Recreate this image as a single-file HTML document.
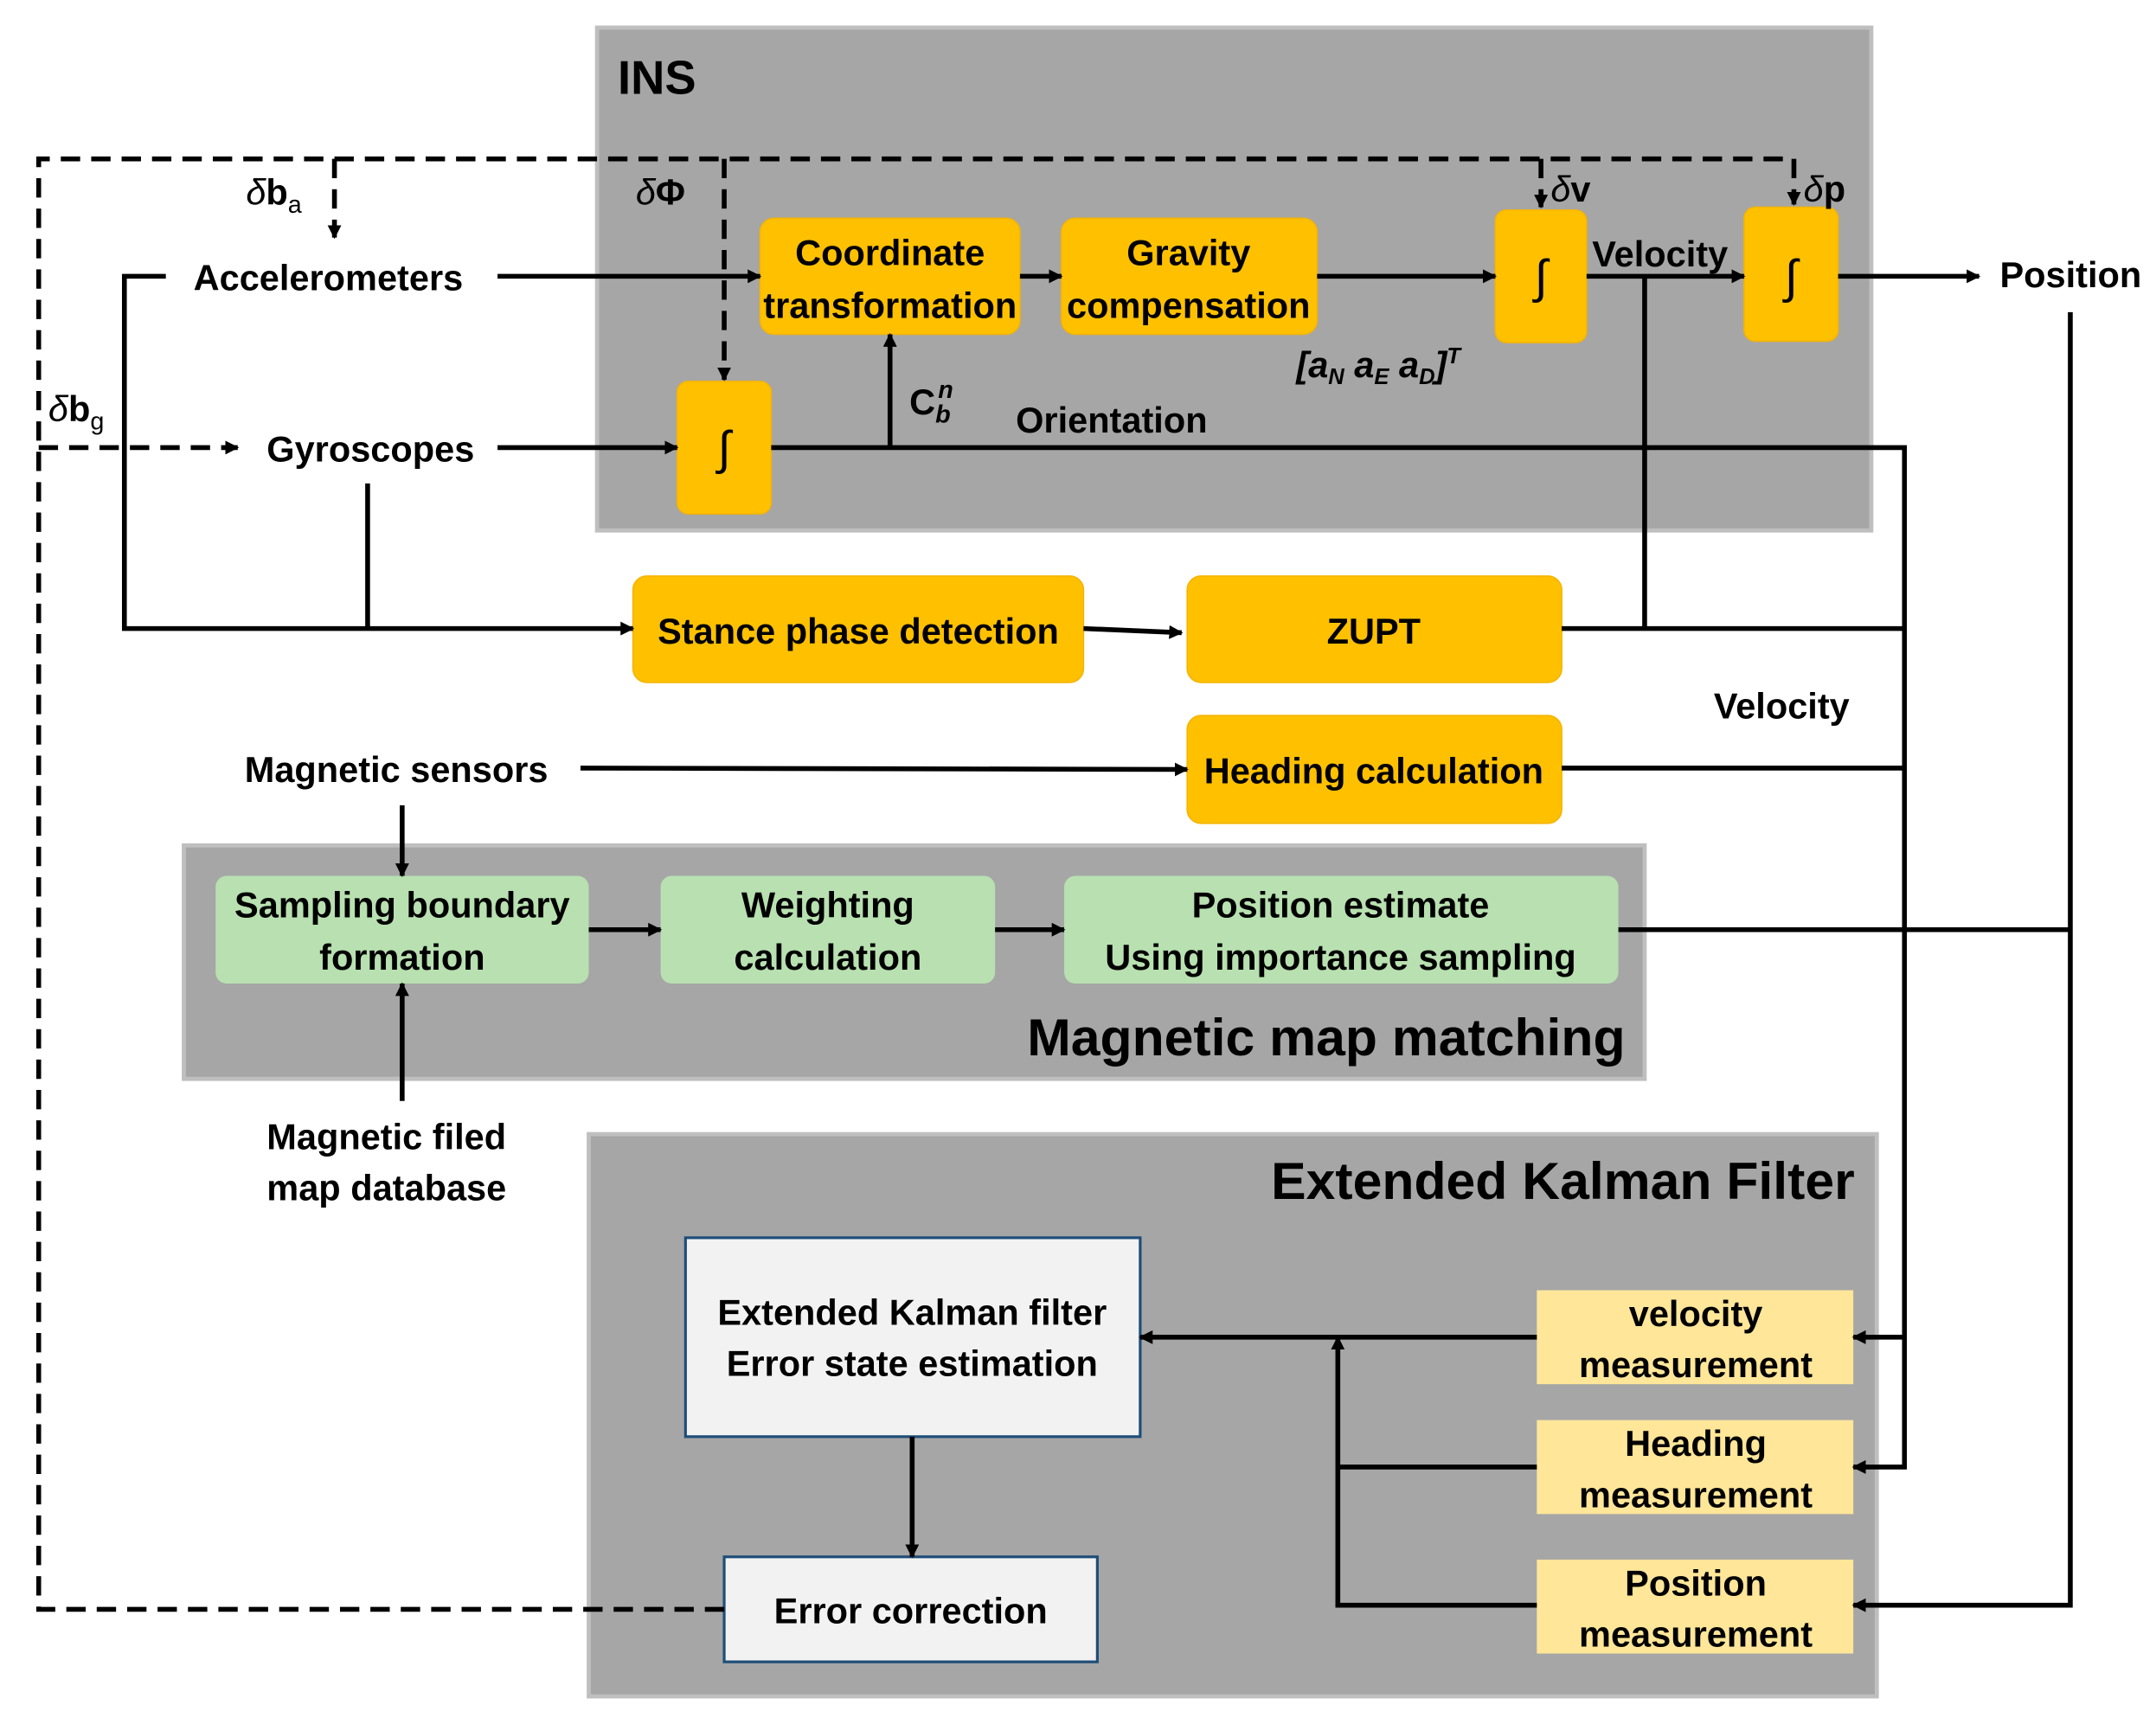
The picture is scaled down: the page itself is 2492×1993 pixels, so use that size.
<!DOCTYPE html>
<html><head><meta charset="utf-8">
<style>
html,body{margin:0;padding:0;background:#fff;}
svg{display:block;}
text{font-family:"Liberation Sans",sans-serif;font-weight:bold;fill:#000;}
</style></head>
<body>
<svg width="2492" height="1993" viewBox="0 0 1560 1248" preserveAspectRatio="none" xmlns="http://www.w3.org/2000/svg">
<defs>
<marker id="ah" markerWidth="10" markerHeight="10" refX="9" refY="5" orient="auto" markerUnits="userSpaceOnUse">
<path d="M0,0 L10,5 L0,10 z" fill="#000"/>
</marker>
</defs>

<rect x="432" y="20" width="922" height="364" fill="#a6a6a6" stroke="#bfbfbf" stroke-width="3"/>
<rect x="133" y="612" width="1057" height="169" fill="#a6a6a6" stroke="#bfbfbf" stroke-width="3"/>
<rect x="426" y="821" width="932" height="407" fill="#a6a6a6" stroke="#bfbfbf" stroke-width="3"/>
<text x="447" y="68" font-size="34">INS</text>
<text x="1176" y="764" font-size="38" text-anchor="end">Magnetic map matching</text>
<text x="1342" y="868" font-size="38" text-anchor="end">Extended Kalman Filter</text>

<g fill="#ffc000" stroke="#f5b400" stroke-width="1">
<rect x="550" y="158" width="188" height="84" rx="10"/>
<rect x="768" y="158" width="185" height="84" rx="10"/>
<rect x="1082" y="152" width="66" height="96" rx="8"/>
<rect x="1262" y="150" width="68" height="97" rx="8"/>
<rect x="490" y="276" width="68" height="96" rx="8"/>
<rect x="458" y="417" width="326" height="77" rx="10"/>
<rect x="859" y="417" width="271" height="77" rx="10"/>
<rect x="859" y="518" width="271" height="78" rx="10"/>
</g>
<g font-size="26" text-anchor="middle">
<text x="644" y="192">Coordinate</text>
<text x="644" y="230">transformation</text>
<text x="860" y="192">Gravity</text>
<text x="860" y="230">compensation</text>
<text x="621" y="466">Stance phase detection</text>
<text x="994" y="466">ZUPT</text>
<text x="994" y="567">Heading calculation</text>
</g>
<g font-size="34" text-anchor="middle" style="font-family:'Liberation Serif',serif">
<text x="1115" y="212" style="font-weight:normal">∫</text>
<text x="1296" y="212" style="font-weight:normal">∫</text>
<text x="524" y="336" style="font-weight:normal">∫</text>
</g>

<g fill="#b8e0b0">
<rect x="156" y="634" width="270" height="78" rx="8"/>
<rect x="478" y="634" width="242" height="78" rx="8"/>
<rect x="770" y="634" width="401" height="78" rx="8"/>
</g>
<g font-size="26" text-anchor="middle">
<text x="291" y="664">Sampling boundary</text>
<text x="291" y="702">formation</text>
<text x="599" y="664">Weighting</text>
<text x="599" y="702">calculation</text>
<text x="970" y="664">Position estimate</text>
<text x="970" y="702">Using importance sampling</text>
</g>

<rect x="496" y="896" width="329" height="144" fill="#f2f2f2" stroke="#1f4e79" stroke-width="2"/>
<rect x="524" y="1127" width="270" height="76" fill="#f2f2f2" stroke="#1f4e79" stroke-width="2"/>
<g font-size="26" text-anchor="middle">
<text x="660" y="959">Extended Kalman filter</text>
<text x="660" y="996">Error state estimation</text>
<text x="659" y="1175">Error correction</text>
</g>
<g fill="#ffe699">
<rect x="1112" y="934" width="229" height="68"/>
<rect x="1112" y="1028" width="229" height="68"/>
<rect x="1112" y="1129" width="229" height="68"/>
</g>
<g font-size="26" text-anchor="middle">
<text x="1227" y="960">velocity</text>
<text x="1227" y="997">measurement</text>
<text x="1227" y="1054">Heading</text>
<text x="1227" y="1091">measurement</text>
<text x="1227" y="1155">Position</text>
<text x="1227" y="1192">measurement</text>
</g>

<g font-size="26">
<text x="140" y="210">Accelerometers</text>
<text x="193" y="334">Gyroscopes</text>
<text x="1447" y="208">Position</text>
<text x="1152" y="193">Velocity</text>
<text x="735" y="313">Orientation</text>
<text x="1240" y="520">Velocity</text>
<text x="177" y="566">Magnetic sensors</text>
<text x="193" y="832">Magnetic filed</text>
<text x="193" y="869">map database</text>
</g>
<g font-size="26" style="font-family:'Liberation Serif',serif">
<text x="178" y="148"><tspan font-style="italic" font-weight="normal">δ</tspan>b<tspan font-size="18" dy="6" font-weight="normal">a</tspan></text>
<text x="460" y="148"><tspan font-style="italic" font-weight="normal">δ</tspan>Φ</text>
<text x="1122" y="146"><tspan font-style="italic" font-weight="normal">δ</tspan>v</text>
<text x="1305" y="146"><tspan font-style="italic" font-weight="normal">δ</tspan>p</text>
<text x="35" y="305"><tspan font-style="italic" font-weight="normal">δ</tspan>b<tspan font-size="18" dy="6" font-weight="normal">g</tspan></text>
<text x="658" y="300">C<tspan font-size="18" dy="6" font-style="italic">b</tspan><tspan font-size="18" dx="-9" dy="-18" font-style="italic">n</tspan></text>
<text x="938" y="273" font-style="italic">[a<tspan font-size="16" dy="5">N</tspan><tspan dy="-5"> a</tspan><tspan font-size="16" dy="5">E</tspan><tspan dy="-5"> a</tspan><tspan font-size="16" dy="5">D</tspan><tspan dy="-5">]</tspan><tspan font-size="16" dy="-10">T</tspan></text>
</g>

<g stroke="#000" stroke-width="3.5" fill="none">
<line x1="360" y1="200" x2="550" y2="200" marker-end="url(#ah)"/>
<line x1="738" y1="200" x2="768" y2="200" marker-end="url(#ah)"/>
<line x1="953" y1="200" x2="1082" y2="200" marker-end="url(#ah)"/>
<line x1="1148" y1="200" x2="1262" y2="200" marker-end="url(#ah)"/>
<line x1="1330" y1="200" x2="1432" y2="200" marker-end="url(#ah)"/>
<line x1="360" y1="324" x2="490" y2="324" marker-end="url(#ah)"/>
<polyline points="558,324 1378,324 1378,1062 1341,1062" marker-end="url(#ah)"/>
<line x1="644" y1="324" x2="644" y2="242" marker-end="url(#ah)"/>
<polyline points="120,200 90,200 90,455 458,455" marker-end="url(#ah)"/>
<line x1="266" y1="350" x2="266" y2="455"/>
<line x1="784" y1="455" x2="855" y2="458" marker-end="url(#ah)"/>
<line x1="1130" y1="455" x2="1378" y2="455"/>
<line x1="1190" y1="200" x2="1190" y2="455"/>
<line x1="420" y1="556" x2="859" y2="557" marker-end="url(#ah)"/>
<line x1="1130" y1="556" x2="1378" y2="556"/>
<line x1="291" y1="583" x2="291" y2="634" marker-end="url(#ah)"/>
<line x1="291" y1="797" x2="291" y2="712" marker-end="url(#ah)"/>
<line x1="426" y1="673" x2="478" y2="673" marker-end="url(#ah)"/>
<line x1="720" y1="673" x2="770" y2="673" marker-end="url(#ah)"/>
<line x1="1171" y1="673" x2="1498" y2="673"/>
<polyline points="1498,226 1498,1162 1341,1162" marker-end="url(#ah)"/>
<line x1="1378" y1="968" x2="1341" y2="968" marker-end="url(#ah)"/>
<line x1="1112" y1="968" x2="825" y2="968" marker-end="url(#ah)"/>
<polyline points="1112,1162 968,1162 968,968" marker-end="url(#ah)"/>
<line x1="968" y1="1062" x2="1112" y2="1062"/>
<line x1="660" y1="1040" x2="660" y2="1127" marker-end="url(#ah)"/>
</g>

<g stroke="#000" stroke-width="3.5" fill="none" stroke-dasharray="14,8">
<polyline points="524,1165 28,1165 28,115 1298,115"/>
<line x1="242" y1="115" x2="242" y2="172" marker-end="url(#ah)"/>
<line x1="524" y1="115" x2="524" y2="275" marker-end="url(#ah)"/>
<line x1="1115" y1="115" x2="1115" y2="150" marker-end="url(#ah)"/>
<line x1="1298" y1="115" x2="1298" y2="148" marker-end="url(#ah)"/>
<line x1="28" y1="324" x2="172" y2="324" marker-end="url(#ah)"/>
</g>
</svg>
</body></html>
